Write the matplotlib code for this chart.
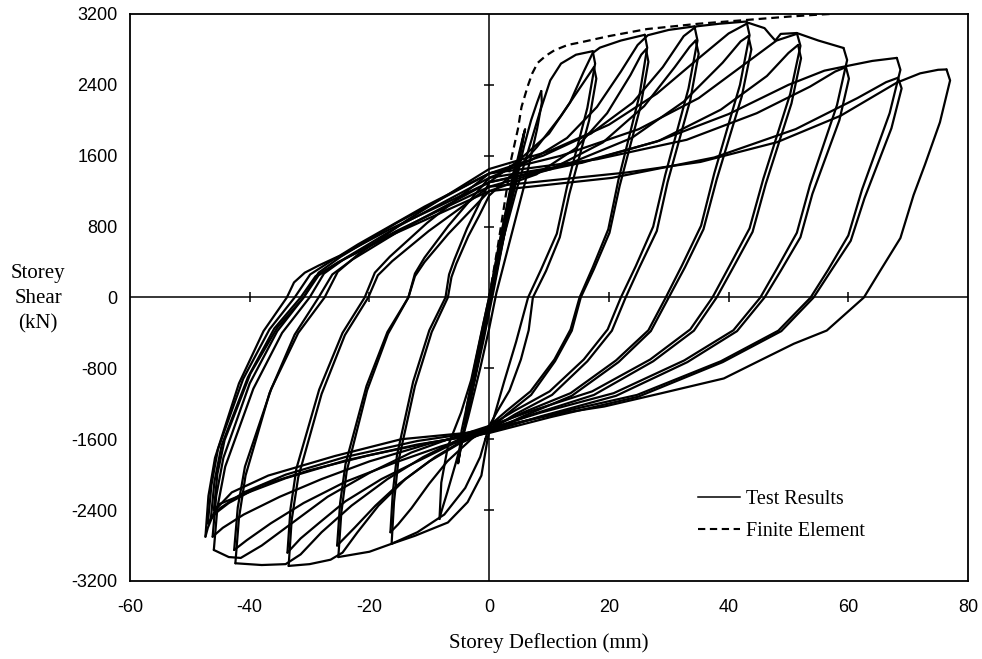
import matplotlib
matplotlib.use("Agg")
import matplotlib.pyplot as plt
from matplotlib.lines import Line2D

plt.rcParams['axes.unicode_minus'] = False

# ---------------- axis data ----------------
x_ticks = [-60, -40, -20, 0, 20, 40, 60, 80]
y_ticks = [-3200, -2400, -1600, -800, 0, 800, 1600, 2400, 3200]
x_tick_labels = ['-60', '-40', '-20', '0', '20', '40', '60', '80']
y_tick_labels = ['-3200', '-2400', '-1600', '-800', '0', '800', '1600', '2400', '3200']

# ---------------- test results (deflection mm, shear kN) ----------------
# small elastic cycles
E1 = [(0, 0), (1.5, 550), (3.0, 1050), (4.2, 1450), (4.0, 1250), (2.5, 700), (0.8, 100), (-1.0, -500),
      (-2.8, -1050), (-4.0, -1450), (-3.8, -1250), (-2.2, -700), (-0.5, -150), (0.3, 100)]
E2 = [(0.3, 100), (2.0, 700), (4.0, 1350), (5.6, 1800), (6.0, 1900), (5.3, 1650), (3.3, 1000), (1.0, 250),
      (-1.0, -450), (-3.0, -1100), (-4.8, -1700), (-5.2, -1870), (-4.4, -1550), (-2.5, -950), (-0.5, -250), (0.6, 100)]
E3 = [(0.6, 100), (2.3, 700), (4.2, 1350), (5.5, 1750), (5.8, 1850), (5.0, 1550), (3.0, 900), (0.8, 150),
      (-1.2, -500), (-3.2, -1150), (-4.6, -1650), (-5.2, -1870)]

# amplitude 1
U1 = [(-5.2, -1870), (-4.6, -1500), (-3.0, -1000), (-1.0, -400), (0.8, 150), (2.5, 700), (4.3, 1250),
      (5.8, 1700), (7.0, 2000), (8.0, 2200), (8.7, 2330)]
D1 = [(8.7, 2330), (8.8, 2200), (8.0, 1900), (6.0, 1300), (3.5, 650), (1.2, 50), (0, -350), (-1.5, -800),
      (-3.5, -1350), (-5.5, -1850), (-7.0, -2200), (-8.0, -2420), (-8.3, -2500)]

# amplitude 2
U2a = [(-8.3, -2500), (-8.0, -2090), (-6.9, -1680), (-4.7, -1300), (-3.0, -930), (-1.0, -300), (0.5, 150),
       (2.5, 700), (4.5, 1200), (6.5, 1650), (8.5, 2100), (10.2, 2450), (12.0, 2640), (14.5, 2740), (17.3, 2780)]
D2a = [(17.3, 2780), (17.7, 2640), (16.4, 2140), (13.0, 1250), (11.3, 720), (8.7, 320), (6.5, 0), (4.5, -500),
       (2.5, -950), (0.8, -1350), (-0.2, -1570), (-1.3, -2010), (-3.6, -2310), (-6.9, -2540), (-12.4, -2690),
       (-16.3, -2780)]
U2b = [(-16.3, -2780), (-15.9, -2310), (-15.2, -1860), (-12.4, -1000), (-9.6, -390), (-6.9, 0), (-6.3, 230),
       (-5.5, 380), (-3.5, 690), (-1.7, 920), (0, 1150), (4, 1400), (8, 1700), (12, 2050), (15, 2350),
       (16.8, 2530), (17.5, 2600)]
D2b = [(17.5, 2600), (17.9, 2470), (16.7, 2000), (13.4, 1170), (11.8, 680), (9.5, 300), (7.3, 0), (6.6, -370),
       (5.3, -700), (3.4, -1050), (1.4, -1280), (0, -1450), (-3, -1600), (-7, -1850), (-10, -2100),
       (-13, -2380), (-15.2, -2560), (-16.5, -2650)]

# amplitude 3
U3a = [(-16.5, -2650), (-16.1, -2200), (-15.4, -1780), (-12.7, -950), (-10, -370), (-7.3, 0), (-6.7, 260),
       (-5.8, 430), (-3.7, 780), (-1.8, 1040), (0, 1300), (5, 1550), (10, 1850), (13.5, 2200), (15.8, 2550),
       (17.3, 2760), (18.5, 2820), (22, 2900), (26, 2965)]
D3a = [(26, 2965), (26.4, 2820), (25.1, 2280), (21.6, 1330), (19.9, 770), (17.3, 340), (15.1, 0),
       (13.6, -360), (10.9, -700), (6.9, -1060), (2.9, -1280), (0, -1450), (-1.5, -1800), (-4, -2150),
       (-7.5, -2450), (-12, -2650), (-16.3, -2780), (-20, -2870), (-25.2, -2930)]
U3b = [(-25.2, -2930), (-24.7, -2430), (-23.8, -1960), (-20.4, -1050), (-16.9, -410), (-13.5, 0),
       (-12.4, 240), (-10.8, 400), (-6.8, 720), (-3.4, 960), (0, 1200), (7.9, 1390), (14.4, 1680),
       (19.7, 2080), (23.6, 2510), (25.4, 2740), (26.2, 2800)]
D3b = [(26.2, 2800), (26.6, 2660), (25.3, 2160), (21.8, 1260), (20.1, 730), (17.5, 320), (15.3, 0),
       (13.8, -375), (11, -720), (7, -1100), (2.9, -1320), (0, -1500), (-5, -1650), (-10, -1850),
       (-15, -2100), (-19, -2350), (-22.5, -2600), (-25.4, -2800)]

# amplitude 4
U4a = [(-25.4, -2800), (-24.9, -2320), (-24, -1880), (-20.5, -1000), (-17, -390), (-13.5, 0), (-12.4, 270),
       (-10.8, 450), (-6.8, 810), (-3.4, 1080), (0, 1350), (7, 1550), (13, 1800), (18, 2150), (22, 2550),
       (24.8, 2850), (26.5, 2960), (30, 3020), (34.3, 3060)]
D4a = [(34.3, 3060), (34.8, 2900), (33.3, 2360), (29.4, 1380), (27.4, 800), (24.5, 355), (22, 0),
       (19.8, -360), (15.8, -700), (10.1, -1060), (4.2, -1280), (0, -1450), (-4, -1600), (-9, -1800),
       (-14, -2050), (-18.5, -2350), (-22, -2650), (-24.5, -2880), (-26.5, -2960), (-30, -3010), (-33.5, -3030)]
U4b = [(-33.5, -3030), (-33, -2515), (-31.9, -2030), (-28, -1090), (-24.1, -424), (-20.2, 0), (-18.6, 250),
       (-16.2, 410), (-10.1, 750), (-5, 1000), (0, 1250), (10.4, 1450), (19, 1750), (25.9, 2160), (31, 2600),
       (33.5, 2830), (34.5, 2900)]
D4b = [(34.5, 2900), (35, 2750), (33.6, 2230), (29.8, 1300), (28, 750), (25.1, 340), (22.8, 0),
       (20.5, -375), (16.4, -720), (10.5, -1100), (4.3, -1320), (0, -1500), (-6, -1650), (-12, -1850),
       (-18, -2050), (-24, -2300), (-28.5, -2550), (-31.5, -2720), (-33.7, -2880)]

# amplitude 5
U5a = [(-33.7, -2880), (-33.2, -2390), (-32.2, -1930), (-28.4, -1040), (-24.5, -400), (-20.8, 0),
       (-19.1, 280), (-16.6, 460), (-10.4, 840), (-5.2, 1120), (0, 1400), (9, 1600), (17, 1850), (24, 2200),
       (29, 2600), (32.5, 2950), (34.6, 3060), (38.5, 3090), (43, 3115)]
D5a = [(43, 3115), (43.5, 2960), (41.9, 2400), (37.6, 1400), (35.4, 810), (32.2, 360), (29.5, 0),
       (26.6, -370), (21.2, -710), (13.6, -1080), (5.6, -1300), (0, -1480), (-5, -1600), (-11, -1800),
       (-17, -2050), (-23, -2350), (-28, -2650), (-31.5, -2900), (-34, -3010), (-38, -3020), (-42.4, -3000)]
U5b = [(-42.4, -3000), (-41.8, -2490), (-40.7, -2010), (-36.7, -1080), (-32.5, -420), (-28.5, 0),
       (-26.2, 260), (-22.8, 430), (-14.3, 780), (-7.1, 1040), (0, 1300), (13, 1500), (23.8, 1800),
       (32.5, 2210), (39, 2650), (42, 2890), (43.3, 2950)]
D5b = [(43.3, 2950), (43.8, 2800), (42.2, 2270), (38, 1330), (35.8, 770), (32.7, 340), (30, 0),
       (27, -380), (21.6, -730), (13.8, -1110), (5.7, -1340), (0, -1520), (-8, -1680), (-16, -1870),
       (-24, -2080), (-31, -2320), (-36.5, -2550), (-40.5, -2740), (-42.6, -2850)]

# amplitude 6
U6a = [(-42.6, -2850), (-42, -2370), (-40.8, -1910), (-36.4, -1030), (-31.9, -400), (-27.5, 0),
       (-25.3, 290), (-22, 480), (-13.8, 870), (-6.9, 1160), (0, 1450), (10, 1650), (20, 1950), (28, 2300),
       (35, 2700), (40, 2980), (43.3, 3100), (46, 3040), (47, 2960), (47.8, 2900), (48.7, 2975), (51.4, 2985)]
D6a = [(51.4, 2985), (52, 2840), (50.3, 2300), (45.8, 1340), (43.5, 780), (40.1, 350), (37.3, 0),
       (33.6, -360), (26.9, -700), (17.2, -1060), (7.1, -1280), (0, -1450), (-6, -1580), (-13, -1750),
       (-20, -1980), (-27, -2250), (-33, -2550), (-38, -2800), (-41.5, -2940), (-43.5, -2930), (-46, -2850)]
U6b = [(-46, -2850), (-45.4, -2370), (-44.1, -1910), (-39.4, -1030), (-34.6, -400), (-30, 0), (-27.6, 270),
       (-24, 445), (-15, 810), (-7.5, 1080), (0, 1350), (15.5, 1520), (28.4, 1770), (38.7, 2120),
       (46.4, 2500), (50, 2760), (51.6, 2850)]
D6b = [(51.6, 2850), (52.1, 2700), (50.5, 2190), (46.2, 1280), (44, 740), (40.7, 330), (38, 0),
       (34.2, -375), (27.4, -720), (17.5, -1100), (7.2, -1320), (0, -1500), (-10, -1650), (-20, -1850),
       (-28, -2050), (-35, -2250), (-41, -2450), (-44.5, -2600), (-46.2, -2700)]

# amplitude 7
U7a = [(-46.2, -2700), (-45.6, -2240), (-44.4, -1810), (-40, -970), (-35.4, -380), (-31, 0), (-28.5, 280),
       (-24.8, 460), (-15.5, 840), (-7.8, 1120), (0, 1400), (12, 1600), (25, 1900), (35, 2250), (43, 2650),
       (48, 2900), (51.6, 2980), (55, 2900), (59.2, 2816)]
D7a = [(59.2, 2816), (59.8, 2680), (58.1, 2170), (53.6, 1270), (51.4, 730), (48.1, 330), (45.3, 0),
       (40.8, -370), (32.6, -710), (20.8, -1080), (8.6, -1300), (0, -1480), (-4, -1530), (-14.7, -1600),
       (-25.8, -1790), (-36.9, -2010), (-43, -2200), (-45.8, -2400), (-47, -2600), (-47.4, -2700)]
U7b = [(-47.4, -2700), (-46.9, -2240), (-45.8, -1810), (-41.8, -970), (-37.7, -380), (-33.8, 0),
       (-32.6, 170), (-30.8, 280), (-28.5, 360), (-25, 470), (-21.9, 600), (-10.8, 1026), (0, 1400),
       (18, 1560), (33, 1780), (44.7, 2080), (53.6, 2380), (57.8, 2550), (59.6, 2600)]
D7b = [(59.6, 2600), (60.1, 2470), (58.5, 2000), (54, 1170), (52, 680), (48.7, 300), (46, 0),
       (41.4, -380), (33.1, -730), (21.2, -1110), (8.7, -1340), (0, -1520), (-10, -1640), (-20, -1780),
       (-30, -1950), (-38, -2120), (-43.5, -2320), (-46, -2450), (-47, -2550)]

# amplitude 8
U8a = [(-47, -2550), (-46.4, -2120), (-45.3, -1710), (-41.1, -920), (-36.7, -360), (-32.5, 0), (-29.9, 260),
       (-26, 430), (-16.3, 780), (-8.1, 1040), (0, 1300), (14, 1500), (28, 1760), (40, 2070), (50, 2400),
       (56, 2560), (60.3, 2620), (64, 2670), (68.1, 2704)]
D8a = [(68.1, 2704), (68.7, 2570), (66.9, 2080), (62.3, 1220), (60, 700), (56.6, 310), (53.7, 0),
       (48.3, -375), (38.7, -720), (24.7, -1100), (10.2, -1320), (0, -1500), (-12, -1620), (-24, -1800),
       (-34, -2000), (-41, -2200), (-45, -2380), (-46.5, -2500)]
U8b = [(-46.5, -2500), (-45.9, -2080), (-44.7, -1670), (-40.3, -900), (-35.9, -350), (-31.5, 0), (-29, 240),
       (-25.2, 400), (-15.8, 720), (-7.9, 960), (0, 1200), (20.5, 1350), (37.6, 1580), (51.2, 1900),
       (61.5, 2250), (66.3, 2430), (68.3, 2480)]
D8b = [(68.3, 2480), (68.9, 2360), (67.2, 1910), (62.7, 1120), (60.4, 640), (57, 290), (54.2, 0),
       (48.8, -380), (39, -730), (24.9, -1120), (10.3, -1350), (0, -1530), (-12, -1660), (-24, -1840),
       (-34, -2040), (-41, -2220), (-45, -2330), (-46, -2400)]

# amplitude 9
U9 = [(-46, -2400), (-45.4, -1990), (-44.2, -1610), (-39.9, -860), (-35.4, -340), (-31, 0), (-28.5, 250),
      (-24.8, 410), (-15.5, 750), (-7.8, 1000), (0, 1250), (22.9, 1410), (35.3, 1530), (48.1, 1753),
      (58.7, 2051), (68.1, 2425), (72, 2530), (75, 2570), (76.4, 2574)]
D9 = [(76.4, 2574), (77, 2450), (75.3, 1977), (72.8, 1500), (70.9, 1156), (68.7, 671), (65.3, 299),
      (62.6, 0), (56.4, -373), (50.9, -522), (45.3, -709), (39.2, -914), (28.7, -1082), (19.2, -1231),
      (12, -1306), (0, -1480), (-3, -1520)]

# ---------------- finite element prediction ----------------
fe_x = [0, 1.5, 3.0, 3.7, 4.8, 5.4, 6.45, 7.2, 8.1, 9.5, 10.9, 13.1, 15.3, 20, 26.4, 35, 43.1, 50, 54.2, 57]
fe_y = [0, 600, 1250, 1567, 1900, 2150, 2387, 2530, 2648, 2730, 2790, 2850, 2880, 2950, 3030, 3090,
        3133, 3170, 3189, 3200]

test_paths = [E1, E2, E3, U1, D1, U2a, D2a, U2b, D2b, U3a, D3a, U3b, D3b, U4a, D4a, U4b, D4b,
              U5a, D5a, U5b, D5b, U6a, D6a, U6b, D6b, U7a, D7a, U7b, D7b, U8a, D8a, U8b, D8b, U9, D9]

# ---------------- drawing ----------------
fig = plt.figure(figsize=(9.82, 6.59), dpi=100)
ax = fig.add_axes([0.1324, 0.1184, 0.8534, 0.8604])

LW = 1.6
for path in test_paths:
    xs = [p[0] for p in path]
    ys = [p[1] for p in path]
    ax.plot(xs, ys, color='black', lw=LW, solid_joinstyle='round', solid_capstyle='round')

ax.plot(fe_x, fe_y, color='black', lw=LW, ls=(0, (3.5, 2.2)))

# cross-hair axes through origin with small tick marks
ax.axhline(0, color='black', lw=1.1)
ax.axvline(0, color='black', lw=1.1)
cross_x = [t for t in x_ticks if t not in (0, x_ticks[0], x_ticks[-1])]
cross_y = [t for t in y_ticks if t not in (0, y_ticks[0], y_ticks[-1])]
ax.plot(cross_x, [0] * len(cross_x), ls='none', marker='|', ms=7, mew=1.1, color='black')
ax.plot([0] * len(cross_y), cross_y, ls='none', marker='_', ms=7, mew=1.1, color='black')

ax.set_xlim(x_ticks[0], x_ticks[-1])
ax.set_ylim(y_ticks[0], y_ticks[-1])
ax.set_xticks(x_ticks)
ax.set_xticklabels(x_tick_labels)
ax.set_yticks(y_ticks)
ax.set_yticklabels(y_tick_labels)
ax.tick_params(axis='both', length=0, labelsize=13)
ax.tick_params(axis='x', pad=13)
ax.tick_params(axis='y', pad=9)
for lab in ax.get_xticklabels() + ax.get_yticklabels():
    lab.set_fontfamily('Liberation Sans')
for s in ax.spines.values():
    s.set_linewidth(1.3)

serif = 'Liberation Serif'
fig.text(38 / 982, 1 - 299 / 659, 'Storey\nShear\n(kN)', ha='center', va='center',
         fontsize=15, family=serif, linespacing=1.45)
fig.text(549 / 982, 1 - 643 / 659, 'Storey Deflection (mm)', ha='center', va='center',
         fontsize=15, family=serif)

handles = [Line2D([], [], color='black', lw=1.1),
           Line2D([], [], color='black', lw=1.5, ls=(0, (3.5, 2.2)))]
ax.legend(handles, ['Test Results', 'Finite Element'], loc='upper left',
          bbox_to_anchor=(0.656, 0.192), frameon=False, handlelength=2.1, handletextpad=0.3,
          labelspacing=0.62, prop={'family': serif, 'size': 14.5}, borderpad=0.4)

fig.savefig('out.png', dpi=100)
